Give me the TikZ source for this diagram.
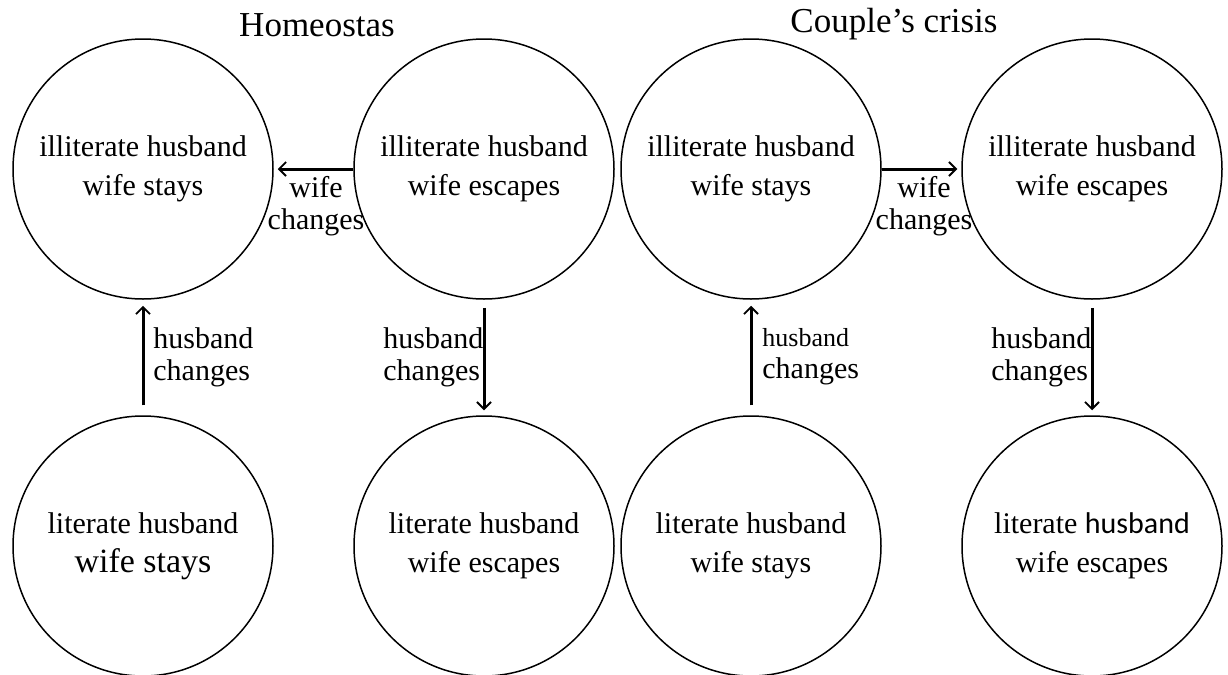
\documentclass[tikz,border=0pt]{standalone}
\usepackage{fontspec}
\setmainfont{Liberation Serif}
\newfontfamily\calibrifont{Carlito}
\usetikzlibrary{arrows.meta}
\begin{document}
\begin{tikzpicture}[x=0.5pt,y=-0.5pt,
    state/.style={circle,draw,line width=0.75pt,minimum size=130pt,inner sep=0pt,
        align=center,font=\fontsize{15}{19.5}\selectfont},
    change/.style={line width=1.5pt,-{Straight Barb[length=3.5pt,width=7pt,line width=0.9pt]}},
    note/.style={align=left,anchor=west,inner sep=0pt,font=\fontsize{15}{16}\selectfont},
    title/.style={font=\fontsize{17.5}{20}\selectfont}]
        \useasboundingbox (0,0) rectangle (1228,675);
        \coordinate (A) at (143,169);
        \coordinate (B) at (484,169);
        \coordinate (C) at (751,169);
        \coordinate (D) at (1092,169);
        \coordinate (E) at (143,546);
        \coordinate (F) at (484,546);
        \coordinate (G) at (751,546);
        \coordinate (H) at (1092,546);
        % titles
        \node[title] (homeo) at (317,25) {Homeostas};
        \node[title] (crisis) at (894,24) {Couple’s crisis};
        % states
        \node[state] (IS) at (A) {illiterate husband\\wife stays};
        \node[state] (IE) at (B) {illiterate husband\\wife escapes};
        \node[state] (IS2) at (C) {illiterate husband\\wife stays};
        \node[state] (IE2) at (D) {illiterate husband\\wife escapes};
        \node[state] (LS) at (E) {literate husband\\{\fontsize{17}{19.5}\selectfont wife stays}};
        \node[state] (LE) at (F) {literate husband\\wife escapes};
        \node[state] (LS2) at (G) {literate husband\\wife stays};
        \node[state] (LE2) at (H) {literate {\calibrifont husband}\\wife escapes};
        % transitions
        \draw[change,shorten >=2pt] (IE.west) -- (IS.east);
        \draw[change,shorten >=2pt] (IS2.east) -- (IE2.west);
        \draw[change,shorten <=5pt,shorten >=3pt] (LS.north) -- (IS.south);
        \draw[change,shorten <=4pt,shorten >=2.5pt] (IE.south) -- (LE.north);
        \draw[change,shorten <=5pt,shorten >=3pt] (LS2.north) -- (IS2.south);
        \draw[change,shorten <=4pt,shorten >=2.5pt] (IE2.south) -- (LE2.north);
        % labels
        \node[note,anchor=center,align=center] (w1) at (316,206) {wife\\changes};
        \node[note,anchor=center,align=center] (w2) at (924,206) {wife\\changes};
        \node[note] (h1) at (153,357) {husband\\changes};
        \node[note] (h2) at (383,357) {husband\\changes};
        \node[note] (h3) at (762,357) {{\fontsize{13}{16}\selectfont husband}\\changes};
        \node[note] (h4) at (991,357) {husband\\changes};
    \end{tikzpicture}
\end{document}
